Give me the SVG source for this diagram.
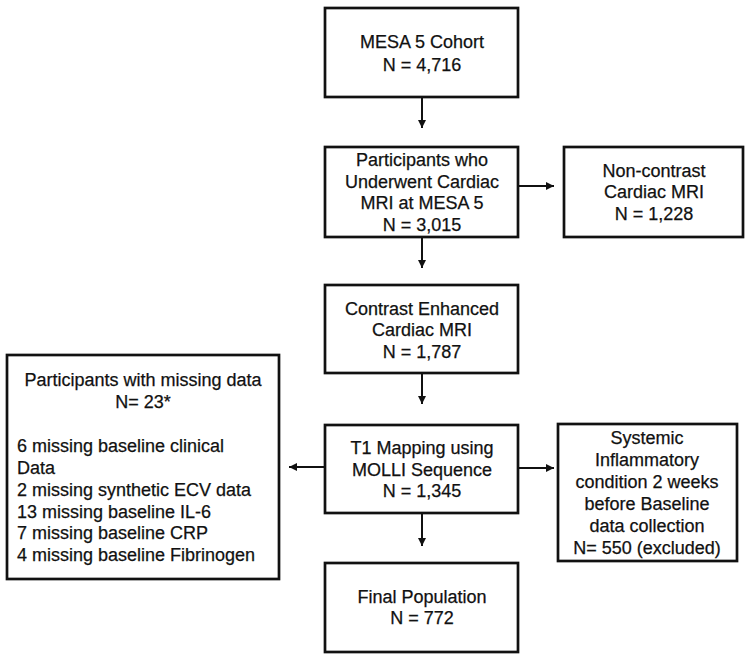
<svg xmlns="http://www.w3.org/2000/svg" width="750" height="659" viewBox="0 0 750 659">
<defs>
<marker id="ah" markerWidth="10" markerHeight="10" refX="8" refY="4.5" orient="auto" markerUnits="userSpaceOnUse">
<path d="M0,0.5 L8,4.5 L0,8.5 Z" fill="#111"/>
</marker>
<style>
.box{fill:#fff;stroke:#111;stroke-width:2.7}
.t{font-family:"Liberation Sans",Arial,sans-serif;font-size:18px;fill:#111;stroke:#111;stroke-width:0.25;text-anchor:middle}
.l{font-family:"Liberation Sans",Arial,sans-serif;font-size:18px;fill:#111;stroke:#111;stroke-width:0.25}
.c{stroke:#111;stroke-width:2;fill:none;marker-end:url(#ah)}
</style>
</defs>
<rect width="750" height="659" fill="#fff"/>
<g id="connectors">
<line class="c" x1="422" y1="97" x2="422" y2="128"/>
<line class="c" x1="518" y1="186" x2="554" y2="186"/>
<line class="c" x1="422" y1="237" x2="422" y2="268"/>
<line class="c" x1="422" y1="373" x2="422" y2="404"/>
<line class="c" x1="518" y1="468" x2="554" y2="468"/>
<line class="c" x1="422" y1="513" x2="422" y2="546"/>
<line class="c" x1="325" y1="467" x2="289" y2="467"/>
</g>
<g id="n1">
<rect class="box" x="325" y="8" width="193" height="89"/>
<text class="t" x="422" y="48">MESA 5 Cohort</text>
<text class="t" x="422" y="71">N = 4,716</text>
</g>
<g id="n2">
<rect class="box" x="325" y="147" width="193" height="90"/>
<text class="t" x="422" y="166">Participants who</text>
<text class="t" x="422" y="188">Underwent Cardiac</text>
<text class="t" x="422" y="209">MRI at MESA 5</text>
<text class="t" x="422" y="231">N = 3,015</text>
</g>
<g id="n3">
<rect class="box" x="564" y="147" width="179" height="90"/>
<text class="t" x="654" y="177">Non-contrast</text>
<text class="t" x="654" y="198">Cardiac MRI</text>
<text class="t" x="654" y="220">N = 1,228</text>
</g>
<g id="n4">
<rect class="box" x="325" y="285" width="193" height="88"/>
<text class="t" x="422" y="315">Contrast Enhanced</text>
<text class="t" x="422" y="336">Cardiac MRI</text>
<text class="t" x="422" y="358">N = 1,787</text>
</g>
<g id="n5">
<rect class="box" x="325" y="425" width="193" height="88"/>
<text class="t" x="422" y="454">T1 Mapping using</text>
<text class="t" x="422" y="476">MOLLI Sequence</text>
<text class="t" x="422" y="497">N = 1,345</text>
</g>
<g id="n6">
<rect class="box" x="558" y="424" width="179" height="137"/>
<text class="t" x="647" y="444">Systemic</text>
<text class="t" x="647" y="466">Inflammatory</text>
<text class="t" x="647" y="488">condition 2 weeks</text>
<text class="t" x="647" y="510">before Baseline</text>
<text class="t" x="647" y="532">data collection</text>
<text class="t" x="647" y="554">N= 550 (excluded)</text>
</g>
<g id="n7">
<rect class="box" x="325" y="563" width="193" height="89"/>
<text class="t" x="422" y="603">Final Population</text>
<text class="t" x="422" y="624">N = 772</text>
</g>
<g id="n8">
<rect class="box" x="7" y="355" width="272" height="224"/>
<text class="t" x="143" y="386">Participants with missing data</text>
<text class="t" x="143" y="408">N= 23*</text>
<text class="l" x="17" y="452">6 missing baseline clinical</text>
<text class="l" x="17" y="474">Data</text>
<text class="l" x="17" y="496">2 missing synthetic ECV data</text>
<text class="l" x="17" y="518">13 missing baseline IL-6</text>
<text class="l" x="17" y="539">7 missing baseline CRP</text>
<text class="l" x="17" y="561">4 missing baseline Fibrinogen</text>
</g>
</svg>
